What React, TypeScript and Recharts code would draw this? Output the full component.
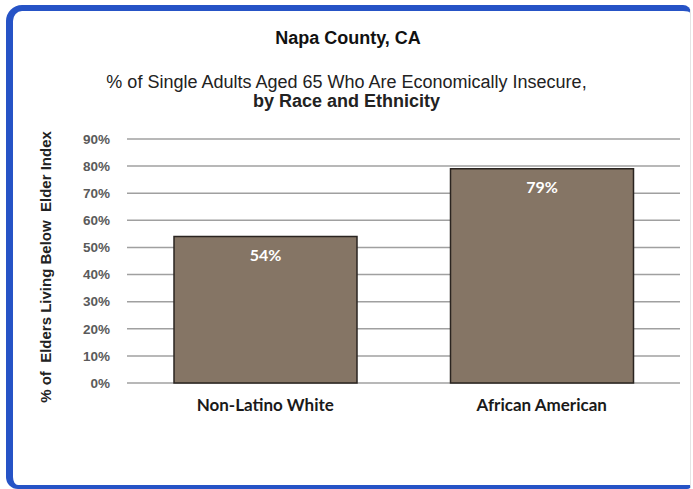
import React from 'react';
import { BarChart, Bar, XAxis, YAxis, CartesianGrid, LabelList } from 'recharts';

const categories = ['Non-Latino White', 'African American'];
const shareBelowIndex = [54, 79];
const yTicks = [0, 10, 20, 30, 40, 50, 60, 70, 80, 90];

const chartData = categories.map((name, i) => ({ name, value: shareBelowIndex[i] }));

const App: React.FC = () => {
  return (
    <div style={{ position: 'absolute', left: 0, top: 0, width: 693, height: 489, background: '#fff', overflow: 'hidden' }}>
      {/* blue frame */}
      <div
        style={{
          position: 'absolute',
          left: 6,
          top: 5,
          width: 685,
          height: 484,
          boxSizing: 'border-box',
          borderTop: '6px solid #2653c6',
          borderLeft: '7px solid #2653c6',
          borderBottom: '4px solid #2653c6',
          borderRight: '1px solid #e4e4e4',
          borderTopLeftRadius: 16,
          borderTopRightRadius: 8,
          borderBottomLeftRadius: 12,
          borderBottomRightRadius: 4,
        }}
      />
      <div style={{ position: 'absolute', left: 0, width: 696, top: 28, textAlign: 'center', fontFamily: '"Liberation Sans", Arial, sans-serif', fontWeight: 'bold', fontSize: 18, color: '#111', lineHeight: '20px' }}>
        Napa County, CA
      </div>
      <div style={{ position: 'absolute', left: 0, width: 693, top: 73, textAlign: 'center', fontFamily: '"Liberation Sans", Arial, sans-serif', fontSize: 18, color: '#222', lineHeight: '19px' }}>
        % of Single Adults Aged 65 Who Are Economically Insecure,
        <br />
        <b>by Race and Ethnicity</b>
      </div>
      <div
        style={{
          position: 'absolute',
          left: 45,
          top: 267,
          transform: 'translate(-50%, -50%) rotate(-90deg)',
          whiteSpace: 'pre',
          fontFamily: '"Liberation Sans", Arial, sans-serif',
          fontWeight: 'bold',
          fontSize: 15,
          color: '#222',
        }}
      >
        {'% of  Elders Living Below  Elder Index'}
      </div>
      <div style={{ position: 'absolute', left: 0, top: 0 }}>
        <BarChart width={693} height={489} data={chartData} margin={{ top: 139, right: 13, bottom: 76, left: 0 }}>
          <CartesianGrid vertical={false} stroke="#a0a0a0" strokeWidth={1.5} />
          <XAxis
            dataKey="name"
            height={30}
            axisLine={false}
            tickLine={false}
            tickMargin={10}
            tick={{ fill: '#1a1a1a', fontSize: 17, fontWeight: 'bold', fontFamily: 'Lato, sans-serif' }}
          />
          <YAxis
            width={127}
            domain={[0, 90]}
            ticks={yTicks}
            interval={0}
            axisLine={false}
            tickLine={false}
            tickMargin={11}
            tickFormatter={(v: number) => `${v}%`}
            tick={{ fill: '#5a5a5a', fontSize: 13.5, fontWeight: 'bold', fontFamily: '"Liberation Sans", Arial, sans-serif' }}
          />
          <Bar dataKey="value" fill="#857565" stroke="#2a2420" strokeWidth={1.5} barSize={183} isAnimationActive={false}>
            <LabelList
              dataKey="value"
              position="insideTop"
              offset={13}
              formatter={(v: number) => `${v}%`}
              style={{ fill: '#fff', fontSize: 16, fontWeight: 'bold', fontFamily: 'Lato, sans-serif' }}
            />
          </Bar>
        </BarChart>
      </div>
    </div>
  );
};

export default App;
